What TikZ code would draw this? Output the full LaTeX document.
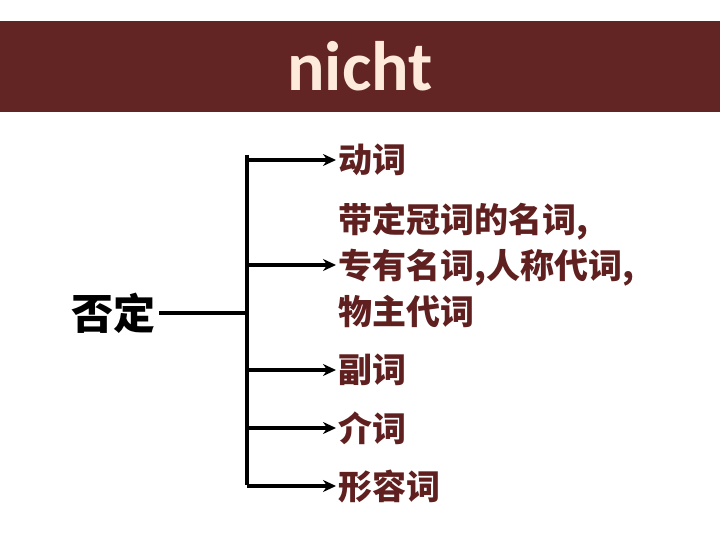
\documentclass[tikz,border=0pt]{standalone}
\usepackage{fontspec}
\usepackage{xcolor}
\usepackage{tikz}
\usetikzlibrary{arrows.meta, positioning, calc}
\setmainfont{Carlito}
\newfontfamily\cjk{Noto Sans CJK SC}

\definecolor{barred}{RGB}{98,37,36}
\definecolor{wordred}{RGB}{96,32,32}
\definecolor{cream}{RGB}{253,234,218}

\begin{document}
\begin{tikzpicture}[
    x=1pt, y=-1pt,
    title/.style={text=cream, font=\bfseries\fontsize{70}{84}\selectfont},
    root/.style={font=\cjk\bfseries\fontsize{42}{50}\selectfont, inner sep=4pt},
    word/.style={anchor=west, text=wordred, align=left, inner sep=2pt, font=\cjk\bfseries\fontsize{34}{46}\selectfont},
    link/.style={line width=3.8pt, draw=black},
    arrow/.style={link, -{Stealth[length=13pt, width=12pt]}}
]
    \useasboundingbox (0,0) rectangle (720,540);

    % Title bar
    \fill[barred] (0,21) rectangle (720,112);
    \node[title, anchor=base] (head) at (360,91) {nicht};

    % Root and branch point
    \node[root] (neg) at (113,313) {否定};
    \coordinate (split) at (247,313);

    % Word classes
    \node[word] (verb) at (336,160) {动词};
    \node[word] (noun) at (336,265) {带定冠词的名词,\\专有名词,人称代词,\\物主代词};
    \node[word] (adv) at (336,370) {副词};
    \node[word] (prep) at (336,428) {介词};
    \node[word] (adj) at (336,486) {形容词};

    % Connections
    \draw[link] (neg) -- (split);
    \draw[link] ($(split)+(0,-158)$) -- ($(split)+(0,172)$);
    \foreach \n in {verb, noun, adv, prep, adj}
        \draw[arrow] (split |- \n.west) -- (\n.west);
\end{tikzpicture}
\end{document}
